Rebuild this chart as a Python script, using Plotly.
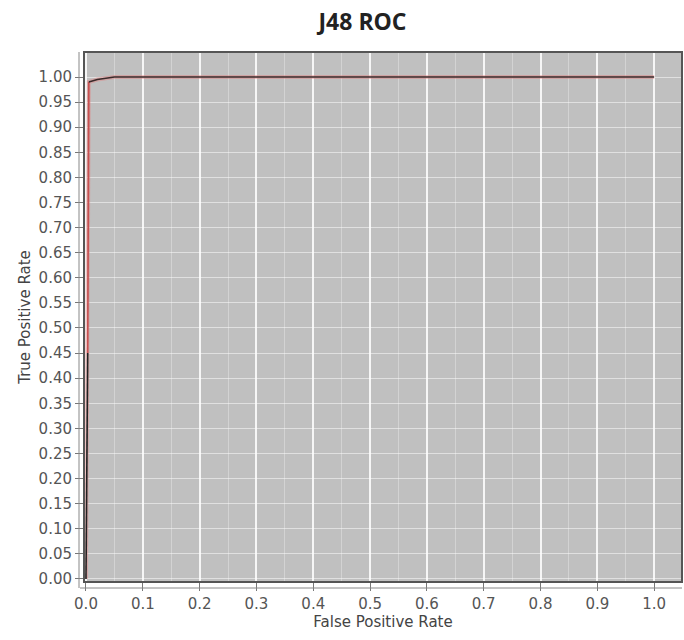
import plotly.graph_objects as go

# ROC curve points (False Positive Rate, True Positive Rate)
fpr_low = [0.0, 0.001, 0.003]
tpr_low = [0.0, 0.20, 0.45]
fpr_mid = [0.003, 0.004, 0.005]
tpr_mid = [0.45, 0.80, 0.99]
fpr_top = [0.005, 0.02, 0.05, 1.0]
tpr_top = [0.99, 0.995, 1.0, 1.0]

x_ticks = [0.0, 0.1, 0.2, 0.3, 0.4, 0.5, 0.6, 0.7, 0.8, 0.9, 1.0]
y_ticks = [round(i * 0.05, 2) for i in range(22)]

W, H = 684, 640
ML, MR, MT, MB = 84, 2, 52, 58
PW, PH = W - ML - MR, H - MT - MB

fig = go.Figure()
fig.add_trace(go.Scatter(x=fpr_low + fpr_mid[1:] + fpr_top[1:], y=tpr_low + tpr_mid[1:] + tpr_top[1:],
                         mode="lines", line=dict(color="rgba(230,120,120,0.4)", width=4),
                         hoverinfo="skip", showlegend=False))
fig.add_trace(go.Scatter(x=fpr_low, y=tpr_low, mode="lines",
                         line=dict(color="#222222", width=1.6), showlegend=False))
fig.add_trace(go.Scatter(x=fpr_mid, y=tpr_mid, mode="lines",
                         line=dict(color="#c85050", width=1.6), showlegend=False))
fig.add_trace(go.Scatter(x=fpr_top, y=tpr_top, mode="lines",
                         line=dict(color="#3a2a2a", width=1.6), showlegend=False))

shapes = [
    dict(type="rect", xref="paper", yref="paper", x0=0, x1=1, y0=0, y1=1,
         line=dict(color="#555555", width=2), layer="above"),
    dict(type="line", xref="paper", yref="paper", x0=-4 / PW, x1=1, y0=-6 / PH, y1=-6 / PH,
         line=dict(color="#888888", width=1)),
    dict(type="line", xref="paper", yref="paper", x0=-5 / PW, x1=-5 / PW, y0=-6 / PH, y1=1,
         line=dict(color="#888888", width=1)),
]

fig.update_layout(
    width=W, height=H,
    margin=dict(l=ML, r=MR, t=MT, b=MB),
    paper_bgcolor="white",
    plot_bgcolor="#c0c0c0",
    title=dict(text="<b>J48 ROC</b>", x=0.53, xanchor="center", y=0.965, yanchor="middle",
               font=dict(family="Open Sans, DejaVu Sans", size=23, color="#222222")),
    font=dict(family="DejaVu Sans", color="#555555"),
    showlegend=False,
    shapes=shapes,
)
fig.update_xaxes(
    range=[-0.0035, 1.049], tickvals=x_ticks, ticktext=[f"{v:.1f}" for v in x_ticks],
    showgrid=True, gridcolor="rgba(255,255,255,0.85)", gridwidth=1.5,
    minor=dict(tickvals=[v + 0.05 for v in x_ticks[:-1]], showgrid=True,
               gridcolor="rgba(255,255,255,0.3)", gridwidth=1),
    zeroline=False, showline=False,
    ticks="outside", ticklen=8, tickcolor="#777777",
    tickfont=dict(size=15, color="#555555"),
    title=dict(text="False Positive Rate", font=dict(size=15, color="#444444"), standoff=4),
)
fig.update_yaxes(
    range=[-0.006, 1.0498], tickvals=y_ticks, ticktext=[f"{v:.2f}" for v in y_ticks],
    showgrid=True, gridcolor="rgba(255,255,255,0.5)", gridwidth=1,
    zeroline=False, showline=False,
    ticks="outside", ticklen=8, tickcolor="#777777",
    tickfont=dict(size=15, color="#555555"),
    title=dict(text="True Positive Rate", font=dict(size=15, color="#444444"), standoff=4),
)

fig.write_html("out.html")
